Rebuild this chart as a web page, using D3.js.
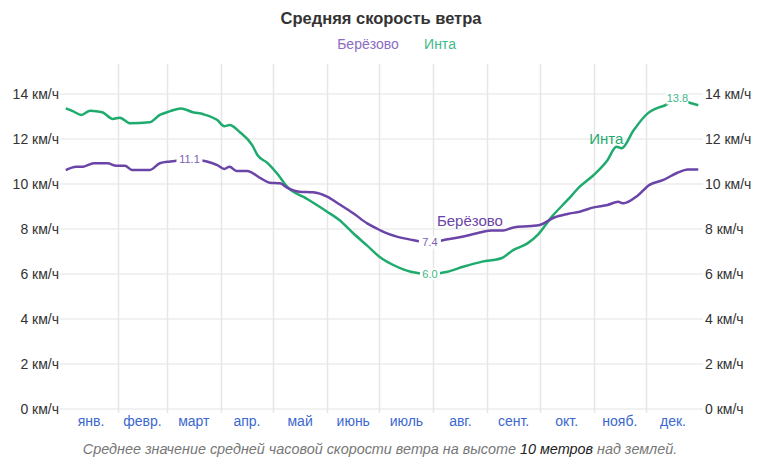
<!DOCTYPE html>
<html>
<head>
<meta charset="utf-8">
<script src="https://cdn.jsdelivr.net/npm/d3@7"></script>
<style>
    body { margin: 0; background: #fff; }
    svg { font-family: "Liberation Sans", Arial, sans-serif; }
</style>
</head>
<body>
<div id="chart"></div>
<script>
// month names (x axis) and y ticks
var months = ['янв.', 'февр.', 'март', 'апр.', 'май', 'июнь', 'июль', 'авг.', 'сент.', 'окт.', 'нояб.', 'дек.'];
var yTicks = [0, 2, 4, 6, 8, 10, 12, 14];

// day of year (0 = 1 jan) and average wind speed, km/h
var intaDays = [1, 5, 10, 15, 22, 28, 32, 38, 49, 55, 61, 67, 74, 80, 88, 92, 95, 101, 108, 111, 117, 123, 128, 139, 151, 158, 166, 174, 181, 189, 199, 210, 220, 229, 240, 251, 258, 266, 272, 280, 289, 296, 304, 312, 317, 320, 327, 335, 340, 345, 352, 359, 364];
var intaKmh = [13.36, 13.24, 13.07, 13.26, 13.19, 12.89, 12.95, 12.70, 12.74, 13.07, 13.24, 13.36, 13.19, 13.10, 12.84, 12.57, 12.62, 12.30, 11.73, 11.29, 10.92, 10.40, 9.88, 9.36, 8.77, 8.40, 7.81, 7.26, 6.77, 6.40, 6.10, 6.0, 6.10, 6.32, 6.55, 6.70, 7.07, 7.36, 7.75, 8.55, 9.29, 9.88, 10.40, 11.07, 11.66, 11.59, 12.40, 13.14, 13.36, 13.50, 13.8, 13.61, 13.50];

var berezovoDays = [1, 7, 11, 17, 25, 30, 35, 39, 49, 55, 61, 65, 72, 82, 88, 92, 95, 99, 105, 113, 118, 124, 128, 135, 143, 151, 158, 166, 174, 180, 184, 191, 200, 210, 218, 227, 237, 245, 252, 258, 268, 273, 281, 289, 296, 304, 312, 318, 321, 329, 336, 344, 352, 358, 364];
var berezovoKmh = [10.62, 10.77, 10.77, 10.92, 10.92, 10.81, 10.81, 10.62, 10.62, 10.92, 11.0, 11.04, 11.1, 11.0, 10.84, 10.67, 10.77, 10.58, 10.58, 10.25, 10.06, 10.03, 9.84, 9.66, 9.63, 9.44, 9.10, 8.70, 8.25, 8.00, 7.85, 7.66, 7.51, 7.4, 7.51, 7.63, 7.81, 7.93, 7.93, 8.07, 8.13, 8.18, 8.50, 8.67, 8.77, 8.96, 9.07, 9.21, 9.14, 9.47, 9.96, 10.18, 10.50, 10.65, 10.65];

var conf = {
    width: 760, height: 457,
    left: 64, right: 700, top: 94, bottom: 409,
    purple: '#6b44a8', green: '#1fab6e'
};

var toDate = function(d) { return new Date(2023, 0, 1 + d); };

var x = d3.scaleTime()
    .domain([new Date(2023, 0, 1), new Date(2024, 0, 1)])
    .range([conf.left, conf.right]);

var y = d3.scaleLinear()
    .domain([0, 14])
    .range([conf.bottom, conf.top]);

var svg = d3.select('#chart').append('svg')
    .attr('width', conf.width)
    .attr('height', conf.height);

// title + legend
svg.append('text')
    .attr('x', 381).attr('y', 24)
    .attr('text-anchor', 'middle')
    .attr('font-size', 16.5).attr('font-weight', 'bold')
    .attr('fill', '#333')
    .text('Средняя скорость ветра');

svg.append('text')
    .attr('x', 368).attr('y', 49)
    .attr('text-anchor', 'middle')
    .attr('font-size', 14).attr('fill', '#8a6cc4')
    .text('Берёзово');
svg.append('text')
    .attr('x', 440).attr('y', 49)
    .attr('text-anchor', 'middle')
    .attr('font-size', 14).attr('fill', '#3dbb88')
    .text('Инта');

// horizontal grid
svg.append('g').selectAll('line')
    .data(yTicks).enter().append('line')
    .attr('x1', 60).attr('x2', 703)
    .attr('y1', function(d) { return y(d); })
    .attr('y2', function(d) { return y(d); })
    .attr('stroke', '#ececec').attr('stroke-width', 1.5);

// vertical grid at month starts (feb..dec)
var monthStarts = d3.range(1, 12).map(function(m) { return new Date(2023, m, 1); });
svg.append('g').selectAll('line')
    .data(monthStarts).enter().append('line')
    .attr('x1', function(d) { return Math.round(x(d)) + 0.5; })
    .attr('x2', function(d) { return Math.round(x(d)) + 0.5; })
    .attr('y1', 64).attr('y2', 413)
    .attr('stroke', '#e6e6e6').attr('stroke-width', 1.5);

// y axes, both sides
var fmt = function(d) { return d + ' км/ч'; };
var yLeft = svg.append('g')
    .attr('transform', 'translate(59,0)')
    .call(d3.axisLeft(y).tickValues(yTicks).tickSize(0).tickPadding(0).tickFormat(fmt));
var yRight = svg.append('g')
    .attr('transform', 'translate(705,0)')
    .call(d3.axisRight(y).tickValues(yTicks).tickSize(0).tickPadding(0).tickFormat(fmt));
[yLeft, yRight].forEach(function(g) {
    g.select('.domain').remove();
    g.selectAll('text')
        .attr('font-family', '"Liberation Sans", Arial, sans-serif')
        .attr('font-size', 14).attr('fill', '#333');
});

// month labels centered on each month
svg.append('g').selectAll('text')
    .data(months).enter().append('text')
    .attr('x', function(d, i) {
        return (x(new Date(2023, i, 1)) + x(new Date(2023, i + 1, 1))) / 2;
    })
    .attr('y', 426)
    .attr('text-anchor', 'middle')
    .attr('font-size', 14).attr('fill', '#3b68cf')
    .text(function(d) { return d; });

// lines
var line = d3.line()
    .x(function(d) { return x(toDate(d[0])); })
    .y(function(d) { return y(d[1]); })
    .curve(d3.curveMonotoneX);

var inta = d3.zip(intaDays, intaKmh);
var berezovo = d3.zip(berezovoDays, berezovoKmh);

svg.append('path')
    .datum(inta)
    .attr('d', line)
    .attr('fill', 'none').attr('stroke', conf.green).attr('stroke-width', 2.5);
svg.append('path')
    .datum(berezovo)
    .attr('d', line)
    .attr('fill', 'none').attr('stroke', conf.purple).attr('stroke-width', 2.5);

// min / max value labels sitting on the line, with a white gap
function valueLabel(series, pick, color, halfW) {
    var p = series.reduce(function(a, b) { return pick(a[1], b[1]) ? a : b; });
    var g = svg.append('g')
        .attr('transform', 'translate(' + x(toDate(p[0])) + ',' + y(p[1]) + ')');
    g.append('rect')
        .attr('x', -halfW).attr('y', -6).attr('width', halfW * 2).attr('height', 12)
        .attr('fill', '#fff');
    g.append('text')
        .attr('text-anchor', 'middle').attr('dy', '0.35em')
        .attr('font-size', 11).attr('fill', color)
        .text(p[1].toFixed(1));
}
valueLabel(berezovo, function(a, b) { return a >= b; }, '#7a5cb8', 13);
valueLabel(berezovo, function(a, b) { return a <= b; }, '#7a5cb8', 11);
valueLabel(inta, function(a, b) { return a >= b; }, '#3cb885', 11);
valueLabel(inta, function(a, b) { return a <= b; }, '#3cb885', 10);

// series name labels
svg.append('text')
    .attr('x', x(toDate(214))).attr('y', y(7.45) - 15)
    .attr('font-size', 15).attr('fill', conf.purple)
    .text('Берёзово');
svg.append('text')
    .attr('x', x(toDate(321))).attr('y', y(11.6) - 4)
    .attr('text-anchor', 'end')
    .attr('font-size', 15).attr('fill', conf.green)
    .text('Инта');

// footnote
var foot = svg.append('text')
    .attr('x', 380).attr('y', 454)
    .attr('text-anchor', 'middle')
    .attr('font-size', 14.4).attr('font-style', 'italic')
    .attr('fill', '#777');
foot.append('tspan').text('Среднее значение средней часовой скорости ветра на высоте ');
foot.append('tspan').attr('fill', '#222').text('10 метров');
foot.append('tspan').text(' над землей.');
</script>
</body>
</html>
